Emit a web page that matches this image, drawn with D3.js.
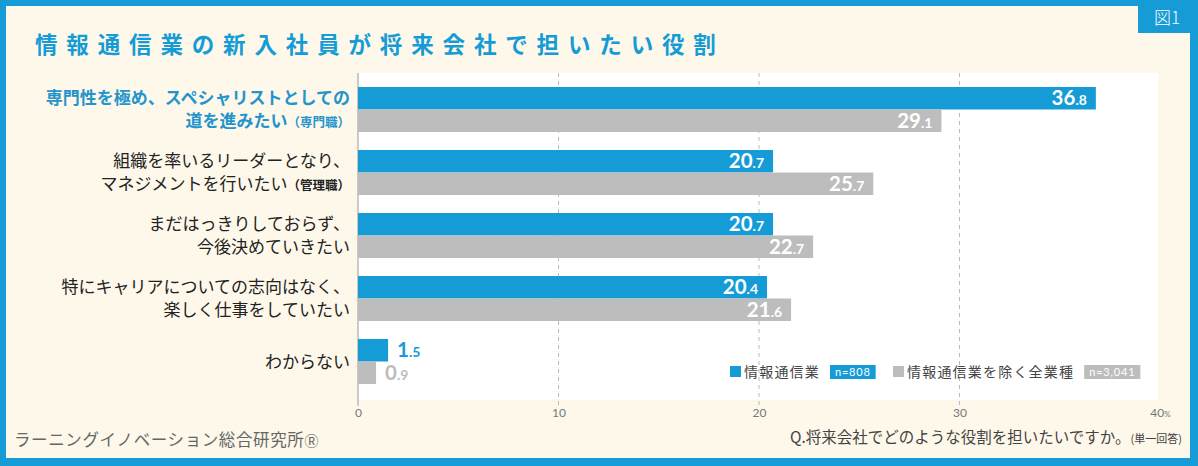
<!DOCTYPE html>
<html><head><meta charset="utf-8">
<script src="https://cdn.jsdelivr.net/npm/d3@7"></script>
<style>
html,body{margin:0;padding:0;background:#fff;}
svg{display:block;}
</style></head>
<body>
<script>
const title = "情報通信業の新入社員が将来会社で担いたい役割";
const figLabel = "図1";
const categories = ["専門職","管理職","未定","志向なし","わからない"];
const labelLine1 = ["専門性を極め、スペシャリストとしての","組織を率いるリーダーとなり、","まだはっきりしておらず、","特にキャリアについての志向はなく、","わからない"];
const labelLine2 = ["道を進みたい","マネジメントを行いたい","今後決めていきたい","楽しく仕事をしていたい",""];
const labelNote = ["（専門職）","（管理職）","","",""];
const seriesNames = ["情報通信業","情報通信業を除く全業種"];
const seriesN = ["n=808","n=3,041"];
const valuesICT = [36.8, 20.7, 20.7, 20.4, 1.5];
const valuesAll = [29.1, 25.7, 22.7, 21.6, 0.9];
const xTicks = [0, 10, 20, 30, 40];
const source = "ラーニングイノベーション総合研究所";
const sourceMark = "Ⓡ";
const question = "Q.将来会社でどのような役割を担いたいですか。";
const questionNote = "(単一回答)";

const W = 1198, H = 466;
const BLUE = "#159bd6", GRAY = "#bdbdbd", CREAM = "#fdf8ea", LBLUE = "#2494cc";
const JP = "'Noto Sans CJK JP','Noto Sans',sans-serif";
const NUM = "Lato,'Noto Sans',sans-serif";

const svg = d3.select("body").append("svg").attr("width", W).attr("height", H);

// frame
svg.append("rect").attr("width", W).attr("height", H).attr("fill", BLUE);
svg.append("rect").attr("x", 6).attr("y", 6).attr("width", W - 14).attr("height", H - 14).attr("fill", CREAM);
svg.append("rect").attr("x", 1138).attr("y", 0).attr("width", 60).attr("height", 33).attr("fill", BLUE);
svg.append("text").attr("x", 1167).attr("y", 24).attr("text-anchor", "middle")
  .attr("fill", "#fff").attr("font-family", JP).attr("font-weight", 300).attr("font-size", 17).text(figLabel);

// title
svg.append("text").attr("x", 35).attr("y", 53).attr("fill", BLUE)
  .attr("font-family", JP).attr("font-weight", 700).attr("font-size", 22.5)
  .attr("letter-spacing", 8.85).text(title);

// plot area
const px0 = 358, px1 = 1158, py0 = 73, py1 = 400;
svg.append("rect").attr("x", px0).attr("y", py0).attr("width", px1 - px0).attr("height", py1 - py0).attr("fill", "#fff");

const x = d3.scaleLinear().domain([0, 40]).range([px0, px1 + 2]);
const y = d3.scaleBand().domain(categories).range([87, 384]).paddingInner(18 / 63).paddingOuter(0);
const ys = d3.scaleBand().domain(seriesNames).range([0, y.bandwidth()]);

// grid
svg.append("g").selectAll("line").data(xTicks.slice(1, 4)).join("line")
  .attr("x1", d => x(d)).attr("x2", d => x(d)).attr("y1", py0).attr("y2", py1 + 5)
  .attr("stroke", "#aaa").attr("stroke-width", 0.8).attr("stroke-dasharray", "4,4");
svg.append("line").attr("x1", px0).attr("x2", px0).attr("y1", py0).attr("y2", py1 + 6)
  .attr("stroke", "#999").attr("stroke-width", 1);

// axis
const ax = svg.append("g").attr("transform", `translate(0,${py1})`)
  .call(d3.axisBottom(x).tickValues(xTicks).tickSize(0).tickPadding(8).tickFormat(d => d));
ax.select(".domain").remove();
ax.selectAll("text").attr("font-family", NUM).attr("font-size", 12).attr("fill", "#777");
ax.selectAll(".tick").filter(d => d === 40).select("text")
  .append("tspan").attr("font-size", 8).text("%");

// bars
const rows = categories.map((c, i) => ({c, i, v: [valuesICT[i], valuesAll[i]]}));
const g = svg.append("g");
rows.forEach(r => {
  r.v.forEach((v, j) => {
    const s = seriesNames[j];
    const yy = y(r.c) + ys(s);
    g.append("rect").attr("x", x(0)).attr("y", yy).attr("width", x(v) - x(0)).attr("height", ys.bandwidth())
      .attr("fill", j === 0 ? BLUE : GRAY);
    const parts = v.toFixed(1).split(".");
    const inside = v > 5;
    const t = g.append("text")
      .attr("x", inside ? x(v) - 9 : x(v) + 9)
      .attr("y", yy + ys.bandwidth() / 2 + 7)
      .attr("text-anchor", inside ? "end" : "start")
      .attr("font-family", NUM).attr("font-weight", 700)
      .attr("fill", inside ? "#fff" : (j === 0 ? BLUE : GRAY));
    t.append("tspan").attr("font-size", 20.5).text(parts[0]);
    t.append("tspan").attr("font-size", 14).text("." + parts[1]);
  });
});

// category labels
rows.forEach(r => {
  const first = r.i === 0;
  const fill = first ? LBLUE : "#222";
  const fw = first ? 700 : 400;
  const cy = y(r.c) + y.bandwidth() / 2;
  const hasTwo = labelLine2[r.i] !== "";
  svg.append("text").attr("x", 350).attr("text-anchor", "end")
    .attr("font-family", JP).attr("font-size", 17).attr("font-weight", fw).attr("fill", fill)
    .attr("y", hasTwo ? cy - 6 : cy + 6).text(labelLine1[r.i]);
  if (hasTwo) {
    const t2 = svg.append("text").attr("x", 350).attr("text-anchor", "end")
      .attr("font-family", JP).attr("font-size", 17).attr("font-weight", fw).attr("fill", fill)
      .attr("y", cy + 17);
    t2.append("tspan").text(labelLine2[r.i]);
    if (labelNote[r.i]) t2.append("tspan").attr("font-size", 12.5).attr("font-weight", 700).text(labelNote[r.i]);
  }
});

// legend
const lg = svg.append("g").attr("font-family", JP);
const legendX = [730, 893];
seriesNames.forEach((s, j) => {
  const col = j === 0 ? BLUE : GRAY;
  const lx = legendX[j];
  lg.append("rect").attr("x", lx).attr("y", 366).attr("width", 11).attr("height", 11).attr("fill", col);
  const tt = lg.append("text").attr("x", lx + 14).attr("y", 377).attr("font-size", 14).attr("fill", "#444")
    .attr("letter-spacing", 1.2).text(s);
  const w = tt.node().getComputedTextLength();
  const bx = lx + 14 + w + 10;
  const bt = lg.append("text").attr("x", bx + 5).attr("y", 376).attr("font-size", 11).attr("fill", "#fff")
    .attr("font-family", NUM).attr("letter-spacing", 0.8).text(seriesN[j]);
  const bw = bt.node().getComputedTextLength() + 10;
  lg.insert("rect", () => bt.node()).attr("x", bx).attr("y", 365).attr("width", bw).attr("height", 14).attr("fill", col);
});

// footer
const src = svg.append("text").attr("x", 14).attr("y", 446).attr("font-family", JP).attr("font-size", 16.5)
  .attr("fill", "#666").attr("letter-spacing", 0.6);
src.append("tspan").text(source);
src.append("tspan").attr("font-size", 14).text(sourceMark);
const q = svg.append("text").attr("x", 1182).attr("y", 443).attr("text-anchor", "end")
  .attr("font-family", JP).attr("font-size", 15.5).attr("fill", "#444");
q.append("tspan").text(question);
q.append("tspan").attr("font-size", 11).text(questionNote);
</script>
</body></html>
